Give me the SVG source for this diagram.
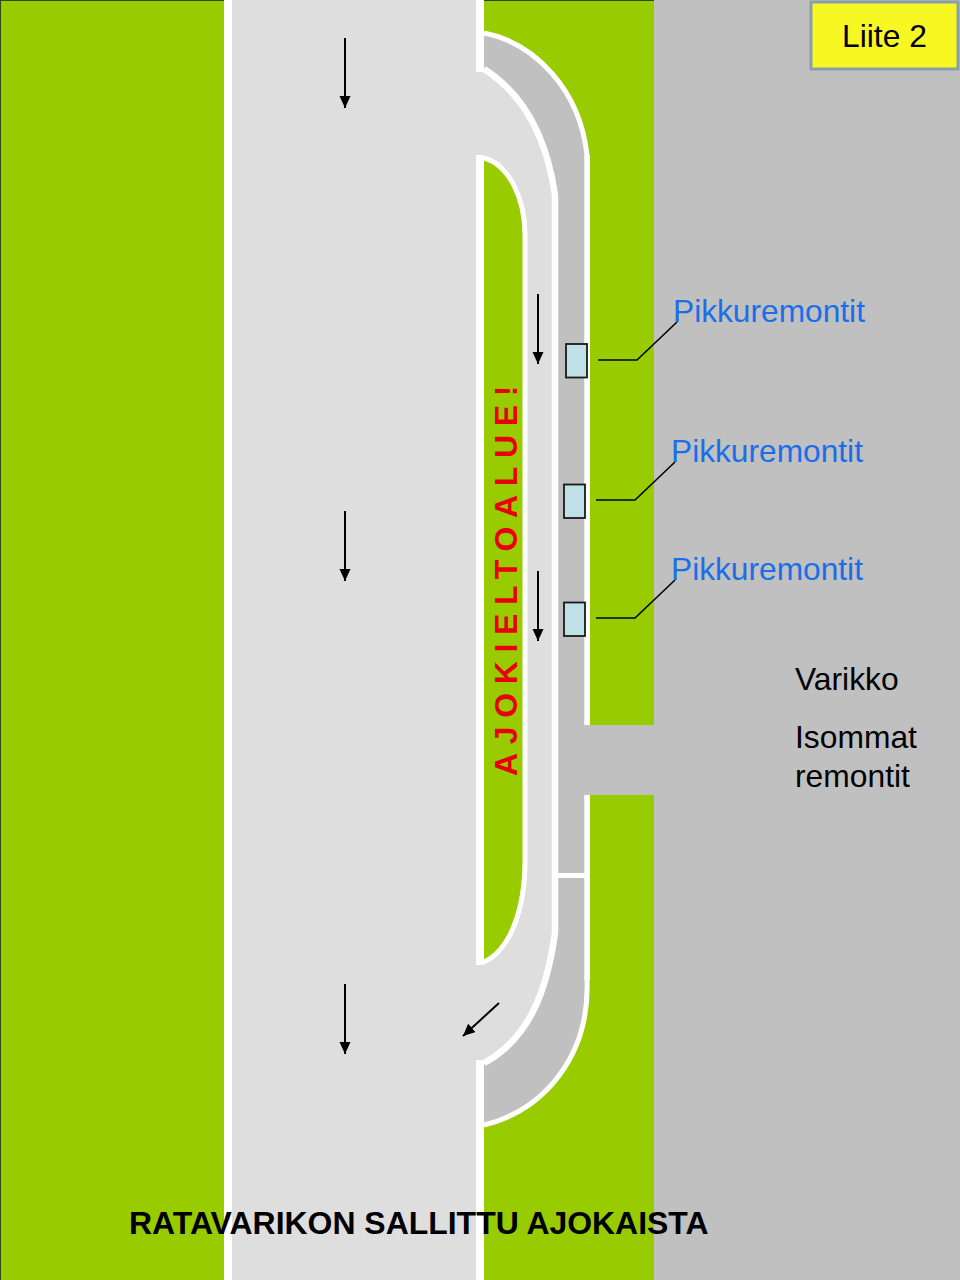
<svg xmlns="http://www.w3.org/2000/svg" width="960" height="1280" viewBox="0 0 960 1280">
<style>
text{font-family:"Liberation Sans",Arial,sans-serif}
.w{fill:none;stroke:#fff}
.lbl{font-size:31.700px;fill:#1a6ee8}
.blk{font-size:31.800px;fill:#000}
.pit{fill:#bee0e6;stroke:#1a1a1a;stroke-width:1.800}
.lead{fill:none;stroke:#000;stroke-width:1.600}
.arr{stroke:#000;stroke-width:2;fill:none;marker-end:url(#ah)}
</style>
<defs><marker id="ah" markerUnits="userSpaceOnUse" markerWidth="13" markerHeight="12" refX="12" refY="5.500" orient="auto"><path d="M0,0L12,5.500L0,11Z" fill="#000"/></marker></defs>
<g id="ground">
<rect width="960" height="1280" fill="#c0c0c0"/>
<rect x="0" y="0" width="224" height="1280" fill="#99cc00"/>
<rect x="484" y="0" width="170" height="1280" fill="#99cc00"/>
<path d="M0,.5H654M.5,0V1280" stroke="#2c4a10" stroke-width="1" fill="none"/>
<rect x="232" y="0" width="244" height="1280" fill="#dedede"/>
<rect x="224" y="0" width="8" height="1280" fill="#fff"/>
</g>
<g id="pit-lane">
<path d="M484,33C535,43 580,90 587,155V980C590,1055 545,1110 484,1125Z" fill="#c0c0c0"/>
<rect x="558" y="725" width="100" height="70" fill="#c0c0c0"/>
<path d="M476,70H484C525,95 547,140 555,195V933C547,990 530,1038 484,1063H476V962H484C510,950 525,910 525,860V235C525,200 510,165 484,157H476Z" fill="#dedede"/>
<path d="M484,158C510,165 525,200 525,235V860C525,910 510,950 484,962Z" fill="#99cc00"/>
</g>
<g id="markings">
<rect x="476" y="0" width="8" height="72" fill="#fff"/>
<rect x="476" y="155" width="8" height="810" fill="#fff"/>
<rect x="476" y="1060" width="8" height="220" fill="#fff"/>
<path class="w" stroke-width="5" d="M484,33C535,43 580,90 587,155V725"/>
<path class="w" stroke-width="5" d="M587,795V980C590,1055 545,1110 484,1125"/>
<rect x="584.500" y="155" width="5.500" height="570" fill="#fff"/>
<rect x="584.500" y="795" width="5.500" height="185" fill="#fff"/>
<path class="w" stroke-width="6.500" d="M484,69C525,95 547,140 555,195V933C547,990 530,1038 484,1063"/>
<path class="w" stroke-width="5" d="M484,158C510,165 525,200 525,235V860C525,910 510,950 484,962"/>
<rect x="557" y="873" width="28" height="5" fill="#fff"/>
</g>
<g id="connectors">
<path class="arr" d="M345,38V108"/>
<path class="arr" d="M345,511V581"/>
<path class="arr" d="M345,984V1054"/>
<path class="arr" d="M538,294V364"/>
<path class="arr" d="M538,571V641"/>
<path class="arr" d="M499,1003L463,1036"/>
<path class="lead" d="M598,360H637L677,322"/>
<path class="lead" d="M596,500H635L675,462"/>
<path class="lead" d="M596,618H635L675,580"/>
</g>
<g id="pit-box-1"><rect class="pit" x="566" y="344" width="21" height="33.500"/></g>
<g id="pit-box-2"><rect class="pit" x="564" y="484.500" width="21" height="33.500"/></g>
<g id="pit-box-3"><rect class="pit" x="564" y="602.500" width="21" height="33.500"/></g>
<g id="liite"><rect x="811" y="2" width="147" height="67" fill="#f7f724" stroke="#8a9ea8" stroke-width="3"/><text class="blk" x="884.500" y="47" text-anchor="middle">Liite 2</text></g>
<text class="lbl" x="673" y="322">Pikkuremontit</text>
<text class="lbl" x="671" y="462">Pikkuremontit</text>
<text class="lbl" x="671" y="580">Pikkuremontit</text>
<text class="blk" x="795" y="690">Varikko</text>
<text class="blk" x="795" y="748">Isommat</text>
<text class="blk" x="795" y="787">remontit</text>
<text transform="translate(517,776) rotate(-90)" font-size="32" font-weight="700" fill="#e8000c" letter-spacing="8.650">AJOKIELTOALUE!</text>
<text x="129" y="1234" font-size="31.950" font-weight="700" fill="#000">RATAVARIKON SALLITTU AJOKAISTA</text>
</svg>
